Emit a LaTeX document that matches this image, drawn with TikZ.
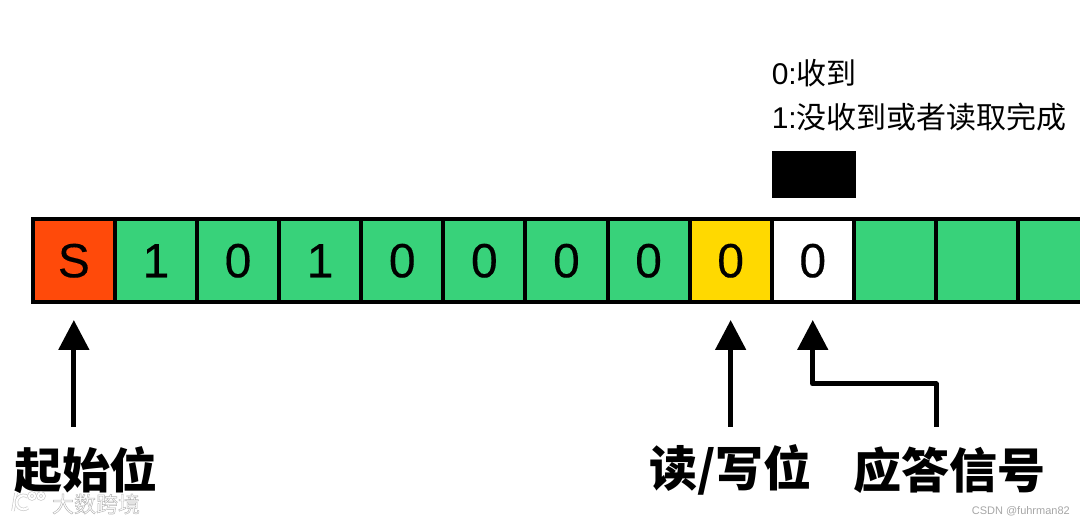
\documentclass[tikz,border=0pt]{standalone}
\usepackage{fontspec}
\setmainfont{Noto Sans CJK SC}
\setsansfont{Liberation Sans}
\newfontfamily\bitfont[FakeBold=0.3]{Liberation Sans}
\usepackage{tikz}
\usetikzlibrary{arrows.meta,positioning}
\definecolor{bitgreen}{HTML}{38D27A}
\definecolor{startred}{HTML}{FF4A0A}
\definecolor{rwyellow}{HTML}{FFD900}
\newcommand{\outlined}[1]{\special{pdf:code 2 Tr 0.45 w 0.7 G 1 g}#1\special{pdf:code 0 Tr}}
\tikzset{
  cell/.style={
    draw, line width=4pt, fill=bitgreen, outer sep=0pt, inner sep=0pt,
    minimum width=82.1pt, minimum height=82.5pt, font=\bitfont\fontsize{48}{48}\selectfont
  },
  arr/.style={-{Triangle[length=30pt,width=30pt]}, line width=5pt, shorten >=18pt, line join=round},
  lbl/.style={font=\fontsize{48}{48}\selectfont\bfseries, inner sep=0pt},
  note/.style={font=\fontsize{30}{44}\selectfont, align=left, inner sep=0pt},
  wmark/.style={draw=gray!40, double=white, double distance=2pt, line width=.7pt}
}

\begin{document}
\begin{tikzpicture}[x=1pt, y=1pt, node distance=0pt]
  \useasboundingbox (0,0) rectangle (1080,522);

  % --- frame row ---------------------------------------------------------
  \node[cell, fill=startred] (s) at (73.85,261.25) {S};
  \node[cell, right=of s] (b1) {1};
  \node[cell, right=of b1] (b2) {0};
  \node[cell, right=of b2] (b3) {1};
  \node[cell, right=of b3] (b4) {0};
  \node[cell, right=of b4] (b5) {0};
  \node[cell, right=of b5] (b6) {0};
  \node[cell, right=of b6] (b7) {0};
  \node[cell, fill=rwyellow, right=of b7] (rw) {0};
  \node[cell, fill=white, right=of rw] (ack) {0};
  \node[cell, right=of ack] (d1) {};
  \node[cell, right=of d1] (d2) {};
  \node[cell, right=of d2] (d3) {};

  % --- ack level and its note --------------------------------------------
  \node[fill=black, inner sep=0pt, minimum width=84pt, minimum height=47pt, above=21.5pt of ack, xshift=1pt] (level) {};
  \node[note, above=19pt of level.north west, anchor=south west] (notes) {{\sffamily 0:}收到\\{\sffamily 1:}没收到或者读取完成};

  % --- labels ------------------------------------------------------------
  \node[lbl] (startlbl) at (86,52) {起始位};
  \node[lbl] (rwlbl) at (730.5,52) {读/写位};
  \node[lbl] (acklbl) at (949,52) {应答信号};
  \coordinate (ackfoot) at (936,95);

  \draw[arr] (s.south |- 0,95) -- (s.south);
  \draw[arr] (rw.south |- 0,95) -- (rw.south);
  \draw[arr] (ackfoot) -- ++(0,43) -| (ack.south);

  % --- watermarks --------------------------------------------------------
  \node[font=\fontsize{22}{22}\selectfont, inner sep=0pt] (wmtext) at (96,18) {\outlined{大数跨境}};
  \node[font=\sffamily\fontsize{11}{11}\selectfont, text=gray!70, inner sep=0pt, anchor=east] (wmcsdn) at (1070,11) {CSDN @fuhrman82};
  \draw[wmark] (16,29) -- (13,11);
  \draw[wmark] (28,25) arc[start angle=50, end angle=310, radius=7];
  \draw[wmark] (32,26) circle[radius=3];
  \draw[wmark] (41,26) circle[radius=3];
\end{tikzpicture}
\end{document}
